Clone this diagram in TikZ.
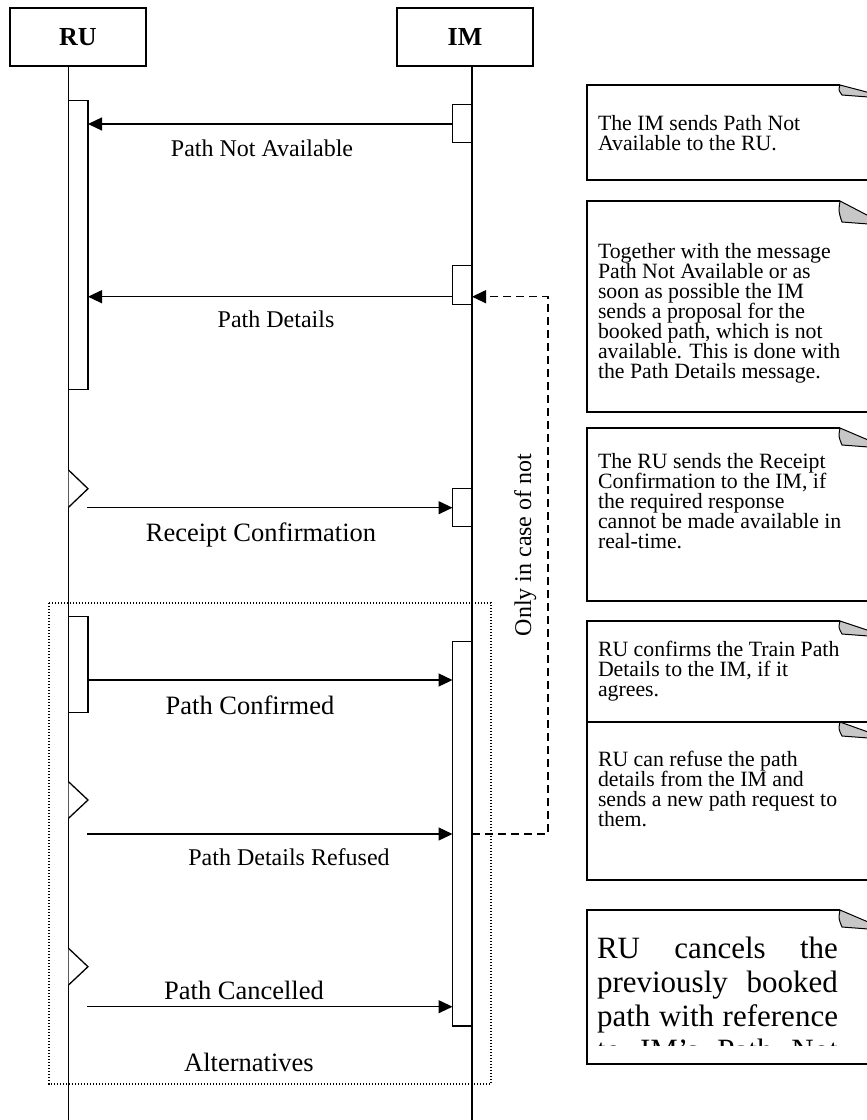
\documentclass[tikz,border=0pt]{standalone}
\usepackage{fontspec}
\setmainfont{Liberation Serif}
\usetikzlibrary{arrows.meta}

% Note sheet: left, top and bottom edges plus the curled corner at the top right.
% #1 = top, #2 = bottom, #3 = size of the curl
\newcommand\notesheet[3]{%
  \draw[noteframe] (880,#2) -- (587,#2) -- (587,#1) -- (840,#1);
  \filldraw[notecurl] (840,#1) -- (875,{#1+0.82*#3+1}) -- (875,{#1+#3+2.5})
    -- (842,{#1+#3}) .. controls (838.5,{#1+0.5*#3}) .. (840,#1) -- cycle;
}
\newcommand\notefont{\fontsize{21.8}{20}\selectfont}

\begin{document}
\begin{tikzpicture}[x=1pt,y=-1pt,
  line width=1.3pt,
  every node/.style={inner sep=0pt, outer sep=0pt},
  head/.style={draw, fill=white, minimum width=136pt, minimum height=58pt,
    font=\fontsize{26}{30}\selectfont\bfseries},
  act/.style={draw, fill=white, minimum width=19.5pt},
  flag/.style={draw, fill=white, line width=1.3pt},
  msg/.style={-{Triangle[length=14pt,width=13pt]}, line width=1.3pt},
  retmsg/.style={msg, dash pattern=on 8pt off 5pt},
  lbl/.style={anchor=base, font=\fontsize{24}{28}\selectfont},
  biglbl/.style={anchor=base, font=\fontsize{26.5}{30}\selectfont},
  altframe/.style={line width=1.2pt, dash pattern=on 1.3pt off 1.7pt},
  noteframe/.style={line width=1.4pt},
  notecurl/.style={fill=black!22, line width=1pt},
  notetext/.style={anchor=base west},
]
\useasboundingbox (0,0) rectangle (867,1120);
\fill[white] (0,0) rectangle (867,1120);
\clip (0,0) rectangle (867,1120);

% lifeline positions and message levels
\coordinate (ruline) at (68.5,1125);
\coordinate (imline) at (472,1125);
\coordinate (m1) at (0,124);
\coordinate (m2) at (0,296.7);
\coordinate (m3) at (0,507.7);
\coordinate (m4) at (0,680);
\coordinate (m5) at (0,834);
\coordinate (m6) at (0,1006.7);

% participants
\node[head] (ru) at (78,37) {RU};
\node[head] (im) at (465,37) {IM};
\draw (ruline |- ru.south) -- (ruline);
\draw (imline |- im.south) -- (imline);

% alternatives frame
\draw[altframe] (49,603) rectangle (491,1084);
\node[biglbl] (alt) at (249,1071.7) {Alternatives};

% activation bars
\node[act, minimum height=289pt] (ru1) at (78.25,245) {};
\node[act, minimum height=38.5pt] (im1) at (462.25,123.5) {};
\node[act, minimum height=38.5pt] (im2) at (462.25,285) {};
\node[act, minimum height=38.5pt] (im3) at (462.25,507.5) {};
\node[act, minimum height=95.6pt] (ru2) at (78.25,664.5) {};
\node[act, minimum height=384.3pt] (imL) at (462.25,833.85) {};

% asynchronous send flags on the RU lifeline
\draw[flag] (68.5,470) -- (88,488.7) -- (68.5,507.3);
\draw[flag] (68.5,781.7) -- (88,800) -- (68.5,818.3);
\draw[flag] (68.5,948.3) -- (88,966.7) -- (68.5,985);
\coordinate (s3) at (87,507.7);
\coordinate (s5) at (87,834);
\coordinate (s6) at (87,1006.7);
\coordinate (ret) at (548,296.7);

% messages
\draw[msg] (im1.west |- m1) -- (ru1.east |- m1);
\node[lbl] (l1) at (262,156) {Path Not Available};

\draw[msg] (im2.west |- m2) -- (ru1.east |- m2);
\node[lbl] (l2) at (276,327) {Path Details};

\draw[msg] (s3) -- (im3.west |- m3);
\node[biglbl] (l3) at (261,541.7) {Receipt Confirmation};

\draw[msg] (ru2.east |- m4) -- (imL.west |- m4);
\node[biglbl] (l4) at (250,714) {Path Confirmed};

\draw[msg] (s5) -- (imL.west |- m5);
\node[lbl] (l5) at (289,865) {Path Details Refused};

\draw[msg] (s6) -- (imL.west |- m6);
\node[biglbl] (l6) at (244,999) {Path Cancelled};

% return path when the details are refused
\draw[retmsg] (imL.east |- m5) -| (ret) -- (im2.east |- m2);
\node[anchor=base, rotate=90, font=\fontsize{24}{28}\selectfont] (cond) at (531,545) {Only in case of not};

% explanatory notes
\notesheet{85}{180}{10}
\node[notetext] (n1) at (598,130) {\parbox[t]{262pt}{\notefont
  The IM sends Path Not\\Available to the RU.}};

\notesheet{201}{412}{21}
\node[notetext] (n2) at (598,258) {\parbox[t]{262pt}{\notefont
  Together with the message\\Path Not Available or as\\soon as possible the IM\\
  sends a proposal for  the\\booked path, which is not\\available. This is done with\\
  the Path Details message.}};

\notesheet{428}{601}{17}
\node[notetext] (n3) at (598,468) {\parbox[t]{262pt}{\notefont
  The RU sends the Receipt\\Confirmation to the IM, if\\the required response\\
  cannot be made available in\\real-time.}};

\notesheet{621}{722}{13}
\node[notetext] (n4) at (598,656) {\parbox[t]{262pt}{\notefont
  RU confirms the Train Path\\Details to the IM, if it\\agrees.}};

\notesheet{722}{880}{14}
\node[notetext] (n5) at (598,766) {\parbox[t]{262pt}{\notefont
  RU can refuse the path\\details from the IM and\\sends a new path request to\\them.}};

\notesheet{910}{1064}{17}
\begin{scope}
  \clip (587,905) rectangle (867,1045);
  \node[notetext] (n6) at (597,958) {\parbox[t]{241pt}{\fontsize{31}{34}\selectfont
    \parfillskip=0pt RU cancels the\linebreak previously booked\linebreak
    path with reference\linebreak to IM’s Path Not}};
\end{scope}
\end{tikzpicture}
\end{document}
